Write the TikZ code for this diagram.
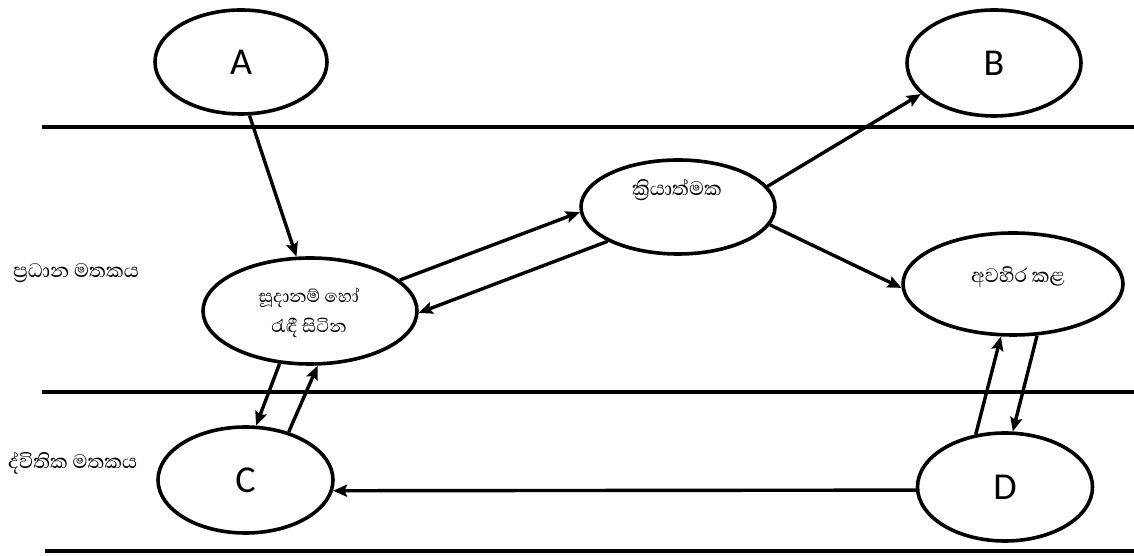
\documentclass[tikz,border=0pt]{standalone}
\usepackage{fontspec}
\setmainfont{Carlito}
\newfontfamily\sinhfont[Script=Sinhala]{Abhaya Libre}
\usetikzlibrary{shapes.geometric,arrows.meta}
\begin{document}
\begin{tikzpicture}[x=1pt,y=1pt,
  st/.style={ellipse,draw,line width=3.6pt,inner sep=0pt,font=\fontsize{38}{40}\selectfont},
  arr/.style={line width=3.4pt,-{Stealth[length=14pt,width=12pt,inset=2.5pt]}},
  sep/.style={line width=3.4pt},
  lab/.style={font=\sinhfont\fontsize{25}{30}\selectfont,align=center,inner sep=0pt}]
\useasboundingbox (0,0) rectangle (1134,556);
% separator lines
\coordinate (l1a) at (42,429); \coordinate (l1b) at (1134,429);
\coordinate (l2a) at (42,164); \coordinate (l2b) at (1134,164);
\coordinate (l3a) at (45,5);   \coordinate (l3b) at (1134,5);
\draw[sep] (l1a) -- (l1b);
\draw[sep] (l2a) -- (l2b);
\draw[sep] (l3a) -- (l3b);
% states
\node[st,minimum width=172,minimum height=104] (A) at (241,494) {A};
\node[st,minimum width=174,minimum height=106] (B) at (994,493) {B};
\node[st,minimum width=214,minimum height=106] (R) at (310,245) {};
\node[st,minimum width=194,minimum height=94] (Run) at (678,349) {};
\node[st,minimum width=220,minimum height=102] (Bl) at (1013,272) {};
\node[st,minimum width=175,minimum height=106] (C) at (245.5,76) {C};
\node[st,minimum width=175,minimum height=108] (D) at (1005,69) {D};
% texts
\node[lab,font=\sinhfont\fontsize{22.5}{30}\selectfont] (Rt) at (309,243) {සූදානම් හෝ\\රැඳී සිටින};
\node[lab] (Runt) at (677,366) {ක්^^^^200dරියාත්මක};
\node[lab] (Blt) at (1018,279) {අවහිර කළ};
\node[lab,anchor=west] (pm) at (13,283) {ප්^^^^200dරධාන මතකය};
\node[lab,anchor=west] (sm) at (8,93) {ද්විතික මතකය};
% transitions
\draw[arr] (A.-81) -- (R.104);
\draw[arr] (R.19.4) -- (Run.183.6);
\draw[arr] (Run.206.6) -- (R.359);
\draw[arr] (Run.13.9) -- (B.203.4);
\draw[arr] (Run.-11.3) -- (Bl.182);
\draw[arr] (R.240) -- (C.79);
\draw[arr] (C.48.5) -- (R.278.3);
\draw[arr] (D.119) -- (Bl.257);
\draw[arr] (Bl.295) -- (D.82);
\draw[arr] (D.182) -- (C.353.5);
\end{tikzpicture}
\end{document}
